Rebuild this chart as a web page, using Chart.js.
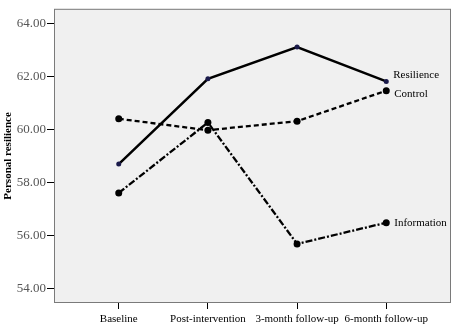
<!DOCTYPE html>
<html>
<head>
<meta charset="utf-8">
<script src="https://cdn.jsdelivr.net/npm/chart.js@4/dist/chart.umd.min.js"></script>
<style>
  html, body { margin: 0; padding: 0; background: #fff; }
  #wrap { width: 456px; height: 329px; }
</style>
</head>
<body>
<div id="wrap"><canvas id="myChart" width="456" height="329"></canvas></div>
<script>
var timepoints = ['Baseline', 'Post-intervention', '3-month follow-up', '6-month follow-up'];
var resilience = [58.70, 61.92, 63.12, 61.82];
var control = [60.41, 59.98, 60.32, 61.47];
var information = [57.61, 60.27, 55.69, 56.49];
var yTicks = [54, 56, 58, 60, 62, 64];

function pts(arr) {
    return arr.map(function (v, i) { return { x: i, y: v }; });
}

// grey plot box behind the lines
var plotBox = {
    id: 'plotBox',
    beforeDraw: function (chart) {
        var a = chart.chartArea, c = chart.ctx;
        c.save();
        c.fillStyle = '#f0f0f0';
        c.fillRect(a.left, a.top, a.right - a.left, a.bottom - a.top);
        c.restore();
    },
    afterDraw: function (chart) {
        var a = chart.chartArea, c = chart.ctx;
        c.save();
        c.strokeStyle = '#7a7a7a';
        c.lineWidth = 1;
        c.strokeRect(a.left + 0.5, a.top + 0.5, a.right - a.left - 1, a.bottom - a.top - 1);
        c.restore();
    }
};

// group names at the end of each line
var endLabels = {
    id: 'endLabels',
    afterDatasetsDraw: function (chart) {
        var c = chart.ctx;
        var offsets = [[7, -6], [8, 3], [8, 0]];
        c.save();
        c.font = '11px "Liberation Serif", "Times New Roman", serif';
        c.fillStyle = '#000';
        c.textBaseline = 'middle';
        chart.data.datasets.forEach(function (ds, i) {
            var p = chart.getDatasetMeta(i).data[3];
            c.fillText(ds.label, p.x + offsets[i][0], p.y + offsets[i][1]);
        });
        c.restore();
    }
};

var ctx = document.getElementById('myChart').getContext('2d');
var myChart = new Chart(ctx, {
    type: 'line',
    data: {
        datasets: [{
            label: 'Resilience',
            data: pts(resilience),
            borderColor: '#000',
            borderWidth: 2.5,
            pointRadius: 2.5,
            pointBackgroundColor: '#1a1a4a',
            pointBorderColor: '#1a1a4a',
            pointBorderWidth: 0
        }, {
            label: 'Control',
            data: pts(control),
            borderColor: '#000',
            borderWidth: 2.3,
            borderDash: [5, 3],
            pointRadius: 3.5,
            pointBackgroundColor: '#000',
            pointBorderColor: '#000',
            pointBorderWidth: 0
        }, {
            label: 'Information',
            data: pts(information),
            borderColor: '#000',
            borderWidth: 2.3,
            borderDash: [7, 2, 2, 2],
            pointRadius: 3.5,
            pointBackgroundColor: '#000',
            pointBorderColor: '#000',
            pointBorderWidth: 0
        }]
    },
    options: {
        responsive: false,
        animation: false,
        layout: { padding: { top: 5, right: 5, left: 0, bottom: 0 } },
        plugins: { legend: { display: false }, tooltip: { enabled: false } },
        scales: {
            x: {
                type: 'linear',
                min: -0.726,
                max: 3.726,
                afterBuildTicks: function (s) { s.ticks = [0, 1, 2, 3].map(function (v) { return { value: v }; }); },
                afterFit: function (s) { s.height = 26; },
                grid: { drawOnChartArea: false, drawTicks: true, tickLength: 6, color: '#000' },
                border: { display: false },
                ticks: {
                    color: '#000',
                    padding: 4,
                    maxRotation: 0,
                    font: { family: '"Liberation Serif", "Times New Roman", serif', size: 11 },
                    callback: function (v) { return timepoints[v]; }
                }
            },
            y: {
                min: 53.46,
                max: 64.56,
                afterBuildTicks: function (s) { s.ticks = yTicks.map(function (v) { return { value: v }; }); },
                afterFit: function (s) { s.width = 54; },
                grid: { drawOnChartArea: false, drawTicks: true, tickLength: 7, color: '#000' },
                border: { display: false },
                title: {
                    display: true,
                    text: 'Personal resilience',
                    color: '#000',
                    padding: { top: 2, bottom: 0 },
                    font: { family: '"Liberation Serif", "Times New Roman", serif', size: 11, weight: 'bold' }
                },
                ticks: {
                    color: '#555',
                    padding: 1,
                    font: { family: '"Liberation Serif", "Times New Roman", serif', size: 13 },
                    callback: function (v) { return v.toFixed(2); }
                }
            }
        }
    },
    plugins: [plotBox, endLabels]
});
</script>
</body>
</html>
